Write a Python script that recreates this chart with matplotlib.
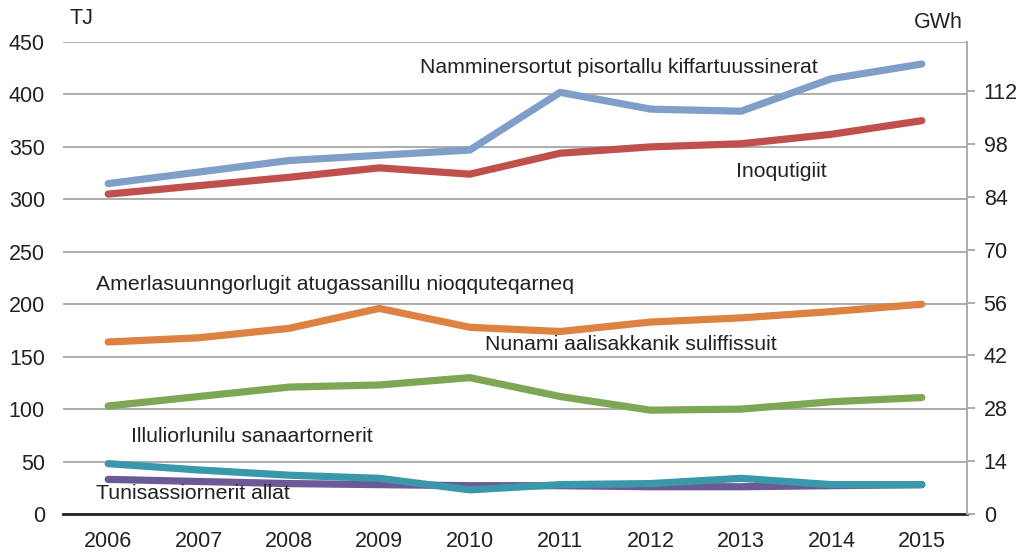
import matplotlib
matplotlib.use('Agg')
from matplotlib import pyplot as plt

plt.rcParams['font.family'] = ['Liberation Sans', 'DejaVu Sans']

years = ['2006', '2007', '2008', '2009', '2010', '2011', '2012', '2013', '2014', '2015']

namminersortut = [315, 326, 337, 342, 347, 402, 386, 384, 415, 429]
inoqutigiit = [305, 313, 321, 330, 324, 344, 350, 353, 362, 375]
amerlasuunngorlugit = [164, 168, 177, 196, 178, 174, 183, 187, 193, 200]
nunami = [103, 112, 121, 123, 130, 112, 99, 100, 107, 111]
illuliorlunilu = [48, 42, 37, 34, 23, 28, 29, 34, 28, 28]
tunisassiornerit = [33, 31, 29, 28, 27, 27, 26, 26, 27, 28]

left_ticks = [0, 50, 100, 150, 200, 250, 300, 350, 400, 450]
right_ticks = [0, 14, 28, 42, 56, 70, 84, 98, 112]
TJ_PER_GWH = 3.6

series = [
    (namminersortut, '#7f9fc9', 'Namminersortut pisortallu kiffartuussinerat', 3.45, 426),
    (inoqutigiit, '#c0504d', 'Inoqutigiit', 6.95, 327),
    (amerlasuunngorlugit, '#dd8243', 'Amerlasuunngorlugit atugassanillu nioqquteqarneq', -0.14, 219),
    (nunami, '#7ea755', 'Nunami aalisakkanik suliffissuit', 4.17, 162),
    (illuliorlunilu, '#3a98ab', 'Illuliorlunilu sanaartornerit', 0.25, 74),
    (tunisassiornerit, '#6b5a96', 'Tunisassiornerit allat', -0.14, 20),
]

fig = plt.figure(figsize=(10.23, 5.52), dpi=100)
ax = fig.add_axes([63 / 1023, 1 - 514 / 552, (967 - 63) / 1023, (514 - 42) / 552])

x = list(range(len(years)))
# purple drawn first so the teal line sits on top
for values, color, label, tx, ty in reversed(series):
    ax.plot(x, values, color=color, linewidth=5.2, solid_capstyle='round',
            solid_joinstyle='round', zorder=3)
for values, color, label, tx, ty in series:
    ax.text(tx, ty, label, fontsize=15.3, color='#222222', va='center',
            ha='left', zorder=4)

ax.set_xlim(-0.5, len(years) - 0.5)
ax.set_ylim(0, 450)
ax.set_xticks(x)
ax.set_xticklabels(years)
ax.set_yticks(left_ticks)
ax.grid(axis='y', color='#a6a6a6', linewidth=1.3, zorder=1)
ax.tick_params(axis='y', length=0, labelsize=15.5, colors='#222222', pad=13)
ax.tick_params(axis='x', length=0, labelsize=15.5, colors='#222222', pad=12)
for side in ['left', 'top', 'right']:
    ax.spines[side].set_visible(False)
ax.spines['bottom'].set_color('#222222')
ax.spines['bottom'].set_linewidth(2)
ax.spines['bottom'].set_zorder(5)

ax2 = ax.twinx()
ax2.set_ylim(0, 450 / TJ_PER_GWH)
ax2.set_yticks(right_ticks)
ax2.tick_params(axis='y', length=6, width=1.3, color='#a6a6a6', labelsize=15.5,
                labelcolor='#222222', pad=6)
for side in ['left', 'top', 'bottom']:
    ax2.spines[side].set_visible(False)
ax2.spines['right'].set_color('#a6a6a6')
ax2.spines['right'].set_linewidth(1.3)

fig.text(70 / 1023, 1 - 18 / 552, 'TJ', fontsize=15.5, color='#222222', va='center')
fig.text(914 / 1023, 1 - 23 / 552, 'GWh', fontsize=15.5, color='#222222', va='center')

fig.savefig('out.png', dpi=100)
